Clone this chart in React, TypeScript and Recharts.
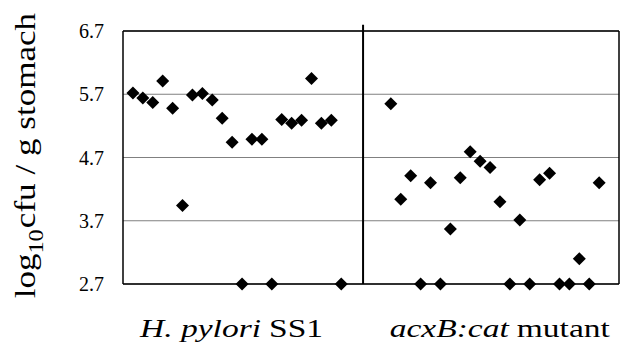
import { ScatterChart, Scatter, XAxis, YAxis, CartesianGrid, ReferenceLine } from "recharts";

const wildType = [5.72, 5.64, 5.57, 5.91, 5.48, 3.94, 5.69, 5.71, 5.61, 5.32, 4.94, 2.7, 4.99, 4.99, 2.7, 5.3, 5.24, 5.29, 5.95, 5.24, 5.29, 2.7];
const mutant = [5.55, 4.04, 4.41, 2.7, 4.3, 2.7, 3.57, 4.38, 4.79, 4.64, 4.54, 4.0, 2.7, 3.71, 2.7, 4.35, 4.45, 2.7, 2.7, 3.1, 2.7, 4.3];
const wildTypeStart = 1;
const mutantStart = 27;
const yTicks = [2.7, 3.7, 4.7, 5.7, 6.7];
const groupTicks = [10.4, 37.4];
const groupLabels = [
  { italic: "H. pylori", plain: "SS1", split: 30 },
  { italic: "acxB:cat", plain: "mutant", split: 15 },
];
const dividerAt = 24.2;

const wtData = wildType.map((v, i) => ({ x: wildTypeStart + i, y: v }));
const mutData = mutant.map((v, i) => ({ x: mutantStart + i, y: v }));

const FONT = "'Liberation Serif', 'Times New Roman', Times, serif";

function Diamond(props: any) {
  const { cx, cy } = props;
  const r = 6.5;
  return <polygon points={`${cx},${cy - r} ${cx + r},${cy} ${cx},${cy + r} ${cx - r},${cy}`} fill="#000" />;
}

function YTick(props: any) {
  const { y, payload } = props;
  return (
    <text x={104} y={y} dy={7} textAnchor="end" fontSize={20} fontFamily={FONT} fill="#000">
      {payload.value.toFixed(1)}
    </text>
  );
}

function GroupTick(props: any) {
  const { x, index } = props;
  const lab = groupLabels[index] ?? groupLabels[0];
  return (
    <g transform={`translate(${x},337) scale(1.34,1)`}>
      <text x={lab.split - 4} y={0} textAnchor="end" fontSize={25} fontFamily={FONT} fontStyle="italic" fill="#000">
        {lab.italic}
      </text>
      <text x={lab.split + 2} y={0} textAnchor="start" fontSize={25} fontFamily={FONT} fill="#000">
        {lab.plain}
      </text>
    </g>
  );
}

export default function App() {
  return (
    <div style={{ position: "absolute", left: 0, top: 0, width: 639, height: 348, background: "#fff" }}>
      <ScatterChart width={639} height={348} margin={{ top: 31, right: 20, bottom: 4, left: 0 }}>
        <CartesianGrid horizontal vertical={false} stroke="#808080" strokeWidth={1.2} />
        <XAxis type="number" dataKey="x" domain={[0, 50]} ticks={groupTicks} tick={<GroupTick />}
          axisLine={false} tickLine={false} height={60} interval={0} />
        <YAxis type="number" dataKey="y" domain={[2.7, 6.7]} ticks={yTicks} tick={<YTick />}
          axisLine={false} tickLine={false} width={123} interval={0} />
        <ReferenceLine y={6.7} stroke="#000" strokeWidth={1.5} />
        <ReferenceLine y={2.7} stroke="#000" strokeWidth={1.5} />
        <ReferenceLine x={0} stroke="#000" strokeWidth={1.5} />
        <ReferenceLine x={50} stroke="#000" strokeWidth={1.5} />
        <ReferenceLine segment={[{ x: dividerAt, y: 2.7 }, { x: dividerAt, y: 6.8 }]} stroke="#000" strokeWidth={2}
          ifOverflow="visible" />
        <Scatter data={wtData} shape={<Diamond />} isAnimationActive={false} />
        <Scatter data={mutData} shape={<Diamond />} isAnimationActive={false} />
        <g transform="translate(35,164) rotate(-90) scale(1.21,1)">
          <text x={-74} y={0} textAnchor="end" fontSize={29} fontFamily={FONT} fill="#000">log</text>
          <text x={-74} y={8} textAnchor="start" fontSize={20} fontFamily={FONT} fill="#000">10</text>
          <text x={-53} y={0} textAnchor="start" fontSize={29} fontFamily={FONT} fill="#000">cfu / g stomach</text>
        </g>
      </ScatterChart>
    </div>
  );
}
